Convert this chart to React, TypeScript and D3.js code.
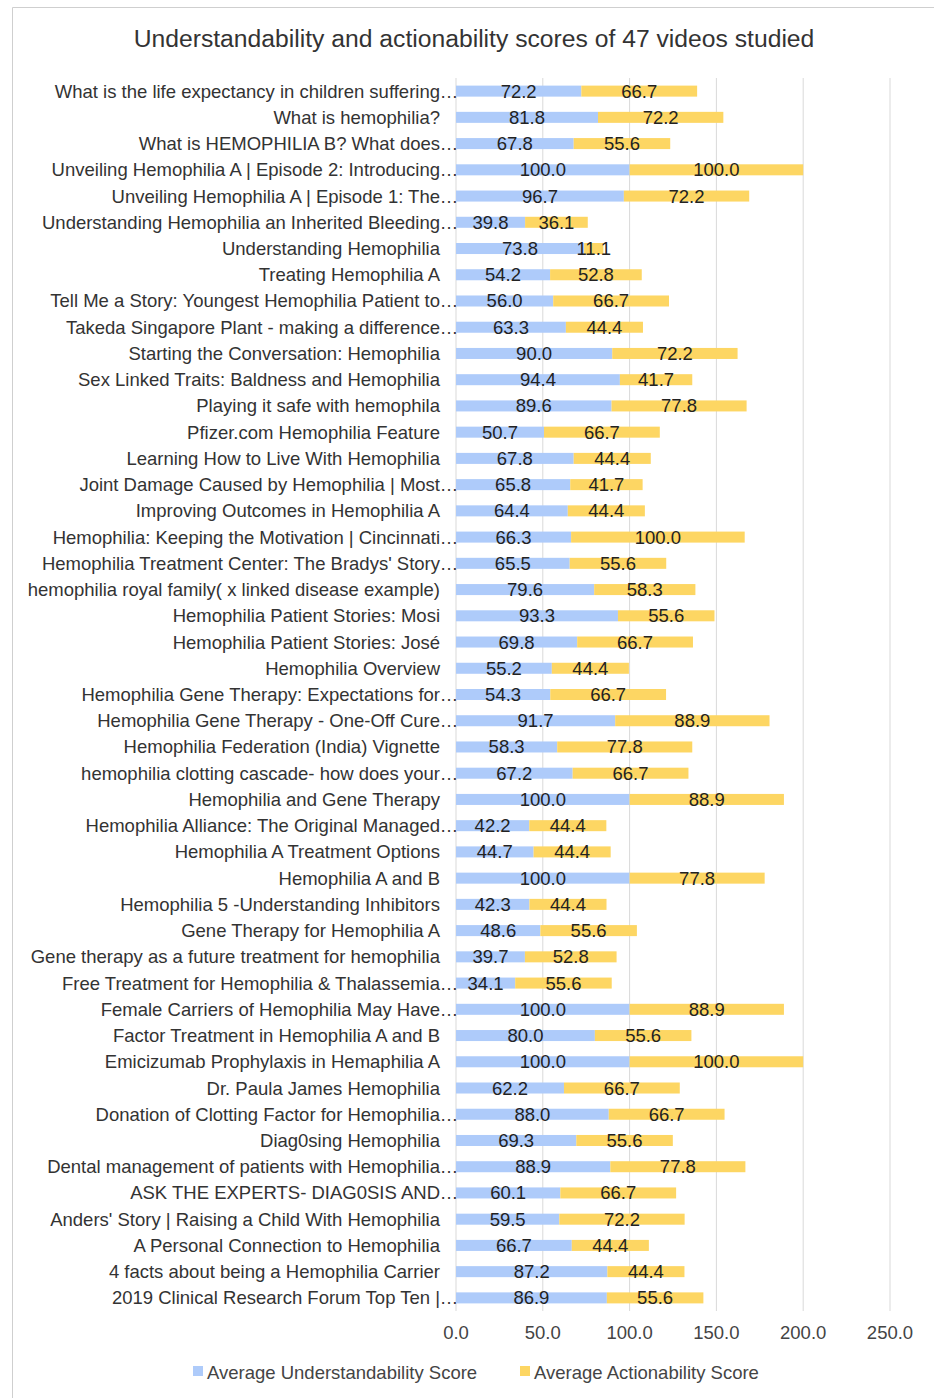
import React from "react";
import * as d3 from "d3";

const categories: string[] = [
  "What is the life expectancy in children suffering…",
  "What is hemophilia?",
  "What is HEMOPHILIA B? What does…",
  "Unveiling Hemophilia A | Episode 2: Introducing…",
  "Unveiling Hemophilia A | Episode 1: The…",
  "Understanding Hemophilia an Inherited Bleeding…",
  "Understanding Hemophilia",
  "Treating Hemophilia A",
  "Tell Me a Story: Youngest Hemophilia Patient to…",
  "Takeda Singapore Plant - making a difference…",
  "Starting the Conversation: Hemophilia",
  "Sex Linked Traits: Baldness and Hemophilia",
  "Playing it safe with hemophila",
  "Pfizer.com Hemophilia Feature",
  "Learning How to Live With Hemophilia",
  "Joint Damage Caused by Hemophilia | Most…",
  "Improving Outcomes in Hemophilia A",
  "Hemophilia: Keeping the Motivation | Cincinnati…",
  "Hemophilia Treatment Center: The Bradys' Story…",
  "hemophilia royal family( x linked disease example)",
  "Hemophilia Patient Stories: Mosi",
  "Hemophilia Patient Stories: José",
  "Hemophilia Overview",
  "Hemophilia Gene Therapy: Expectations for…",
  "Hemophilia Gene Therapy - One-Off Cure…",
  "Hemophilia Federation (India) Vignette",
  "hemophilia clotting cascade- how does your…",
  "Hemophilia and Gene Therapy",
  "Hemophilia Alliance: The Original Managed…",
  "Hemophilia A Treatment Options",
  "Hemophilia A and B",
  "Hemophilia 5 -Understanding Inhibitors",
  "Gene Therapy for Hemophilia A",
  "Gene therapy as a future treatment for hemophilia",
  "Free Treatment for Hemophilia & Thalassemia…",
  "Female Carriers of Hemophilia May Have…",
  "Factor Treatment in Hemophilia A and B",
  "Emicizumab Prophylaxis in Hemaphilia A",
  "Dr. Paula James Hemophilia",
  "Donation of Clotting Factor for Hemophilia…",
  "Diag0sing Hemophilia",
  "Dental management of patients with Hemophilia…",
  "ASK THE EXPERTS- DIAG0SIS AND…",
  "Anders' Story | Raising a Child With Hemophilia",
  "A Personal Connection to Hemophilia",
  "4 facts about being a Hemophilia Carrier",
  "2019 Clinical Research Forum Top Ten |…",
];

const understandability: number[] = [
  72.2, 81.8, 67.8, 100.0, 96.7, 39.8, 73.8, 54.2, 56.0, 63.3,
  90.0, 94.4, 89.6, 50.7, 67.8, 65.8, 64.4, 66.3, 65.5, 79.6,
  93.3, 69.8, 55.2, 54.3, 91.7, 58.3, 67.2, 100.0, 42.2, 44.7,
  100.0, 42.3, 48.6, 39.7, 34.1, 100.0, 80.0, 100.0, 62.2, 88.0,
  69.3, 88.9, 60.1, 59.5, 66.7, 87.2, 86.9,
];

const actionability: number[] = [
  66.7, 72.2, 55.6, 100.0, 72.2, 36.1, 11.1, 52.8, 66.7, 44.4,
  72.2, 41.7, 77.8, 66.7, 44.4, 41.7, 44.4, 100.0, 55.6, 58.3,
  55.6, 66.7, 44.4, 66.7, 88.9, 77.8, 66.7, 88.9, 44.4, 44.4,
  77.8, 44.4, 55.6, 52.8, 55.6, 88.9, 55.6, 100.0, 66.7, 66.7,
  55.6, 77.8, 66.7, 72.2, 44.4, 44.4, 55.6,
];

const xTicks: number[] = [0, 50, 100, 150, 200, 250];
const seriesNames: string[] = ["Average Understandability Score", "Average Actionability Score"];
const seriesColors: string[] = ["#aecbfa", "#fdd663"];
const title = "Understandability and actionability scores of 47 videos studied";

const W = 934;
const H = 1398;
const FONT = "'Liberation Sans', Arial, sans-serif";
const FS = 18.5;

export default function App() {
  const x = d3.scaleLinear().domain([0, 250]).range([456, 890]);
  const y = d3
    .scaleBand<string>()
    .domain(categories)
    .range([78, 1311])
    .paddingInner(0.58)
    .paddingOuter(0.29);
  const bw = y.bandwidth();
  const rows = categories.map((c, i) => ({
    c,
    u: understandability[i],
    a: actionability[i],
  }));
  return (
    <svg
      width={W}
      height={H}
      style={{ position: "absolute", left: 0, top: 0, background: "#fff" }}
      fontFamily={FONT}
    >
      <rect x={0} y={0} width={W} height={H} fill="#fff" />
      <path d={`M12.5,${H} V7.5 H${W}`} fill="none" stroke="#cfcfcf" strokeWidth={1} />
      <text x={474} y={47} textAnchor="middle" fontSize={24.7} fill="#333">
        {title}
      </text>
      {xTicks.map((t) => (
        <g key={t}>
          <line x1={x(t)} x2={x(t)} y1={78} y2={1311} stroke="#d9d9d9" strokeWidth={1} />
          <text x={x(t)} y={1339} textAnchor="middle" fontSize={FS} fill="#444">
            {t.toFixed(1)}
          </text>
        </g>
      ))}
      {rows.map((r) => {
        const y0 = y(r.c)!;
        const cy = y0 + bw / 2;
        return (
          <g key={r.c}>
            <text x={440} y={cy + 6.5} textAnchor="end" fontSize={FS} fill="#333">
              {r.c.endsWith("…") ? r.c.slice(0, -1) : r.c}
            </text>
            {r.c.endsWith("…") && (
              <text x={449} y={cy + 6.5} textAnchor="middle" fontSize={FS} fill="#333">
                …
              </text>
            )}
            <rect x={x(0)} y={y0} width={x(r.u) - x(0)} height={bw} fill={seriesColors[0]} />
            <rect x={x(r.u)} y={y0} width={x(r.u + r.a) - x(r.u)} height={bw} fill={seriesColors[1]} />
            <text x={(x(0) + x(r.u)) / 2} y={cy + 6.5} textAnchor="middle" fontSize={FS} fill="#222">
              {r.u.toFixed(1)}
            </text>
            <text x={(x(r.u) + x(r.u + r.a)) / 2} y={cy + 6.5} textAnchor="middle" fontSize={FS} fill="#222">
              {r.a.toFixed(1)}
            </text>
          </g>
        );
      })}
      {seriesNames.map((s, i) => {
        const lx = i === 0 ? 193 : 520;
        return (
          <g key={s}>
            <rect x={lx} y={1366} width={10} height={10} fill={seriesColors[i]} />
            <text x={lx + 14} y={1378.5} fontSize={FS} fill="#444">
              {s}
            </text>
          </g>
        );
      })}
    </svg>
  );
}
